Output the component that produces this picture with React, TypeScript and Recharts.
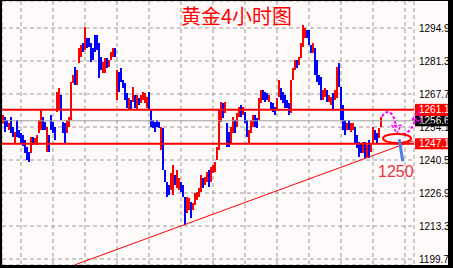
import React from "react";
import {
  Bar,
  CartesianGrid,
  Cell,
  ComposedChart,
  Line,
  ReferenceDot,
  ReferenceLine,
  XAxis,
  YAxis,
} from "recharts";

// 4h gold bars, left to right (high / low), 1 = rising bar (red), 0 = falling (blue)
const barHigh = [
  1259.0, 1258.2, 1257.0, 1255.8, 1258.2, 1254.1, 1252.0, 1257.0, 1252.9, 1251.6,
  1250.8, 1248.7, 1245.9, 1243.8, 1250.0, 1250.0, 1249.6, 1250.8, 1257.0, 1261.1,
  1258.2, 1256.2, 1254.1, 1250.8, 1259.0, 1256.2, 1254.1, 1268.5, 1270.2, 1267.3,
  1256.2, 1255.8, 1257.0, 1258.2, 1272.6, 1275.5, 1278.8, 1277.6, 1286.7, 1287.9,
  1288.7, 1295.3, 1290.8, 1290.8, 1288.7, 1286.7, 1292.0, 1292.0, 1288.7, 1283.0,
  1280.9, 1282.5, 1282.5, 1281.7, 1285.0, 1286.7, 1286.7, 1277.6, 1276.8, 1278.4,
  1273.5, 1272.2, 1268.1, 1266.1, 1265.2, 1270.6, 1267.3, 1267.3, 1266.1, 1267.3,
  1268.5, 1268.1, 1266.5, 1268.5, 1261.1, 1257.0, 1256.2, 1257.0, 1256.2, 1254.1,
  1253.7, 1236.4, 1231.4, 1230.2, 1235.1, 1238.4, 1234.3, 1236.4, 1233.1, 1231.4,
  1230.2, 1225.3, 1225.3, 1224.8, 1223.2, 1222.8, 1226.9, 1227.3, 1229.0, 1234.3,
  1233.1, 1233.5, 1235.6, 1236.4, 1237.6, 1238.4, 1239.7, 1245.9, 1261.1, 1264.4,
  1264.0, 1264.4, 1255.8, 1252.0, 1254.1, 1258.2, 1257.0, 1259.9, 1262.3, 1263.2,
  1262.3, 1260.3, 1257.0, 1252.9, 1257.0, 1259.0, 1259.0, 1257.8, 1266.1, 1269.4,
  1269.4, 1268.5, 1268.1, 1267.3, 1264.4, 1264.0, 1262.3, 1266.1, 1273.5, 1270.2,
  1268.5, 1267.3, 1265.2, 1264.0, 1273.5, 1278.4, 1281.7, 1281.7, 1283.0, 1288.7,
  1296.1, 1294.9, 1294.1, 1294.1, 1287.9, 1288.7, 1286.7, 1281.7, 1275.5, 1274.7,
  1269.4, 1270.2, 1269.4, 1267.3, 1266.5, 1268.1, 1269.4, 1278.8, 1280.5, 1270.6,
  1263.2, 1257.0, 1255.8, 1257.0, 1255.8, 1255.8, 1254.1, 1250.8, 1247.9, 1247.5,
  1247.9, 1247.9, 1246.7, 1248.7, 1247.5, 1254.1, 1252.9, 1251.6, 1253.7, 1258.2,
];

const barLow = [
  1255.5, 1252.0, 1254.1, 1252.9, 1251.6, 1250.0, 1247.5, 1250.0, 1249.6, 1247.5,
  1246.3, 1243.4, 1240.5, 1239.7, 1243.4, 1246.7, 1247.5, 1246.7, 1251.6, 1252.9,
  1252.9, 1252.9, 1243.8, 1243.8, 1252.9, 1251.6, 1248.7, 1260.3, 1261.1, 1257.0,
  1251.6, 1247.5, 1251.6, 1254.1, 1257.0, 1272.2, 1271.4, 1271.4, 1280.5, 1283.0,
  1285.0, 1285.8, 1286.7, 1287.1, 1280.9, 1281.7, 1285.0, 1285.8, 1274.3, 1277.6,
  1276.4, 1276.4, 1278.4, 1278.8, 1281.7, 1283.0, 1283.0, 1265.2, 1268.5, 1272.6,
  1270.2, 1265.2, 1261.9, 1261.1, 1261.1, 1264.4, 1261.9, 1261.1, 1263.2, 1264.0,
  1265.2, 1264.0, 1261.9, 1261.1, 1254.1, 1253.7, 1252.0, 1254.1, 1253.7, 1244.6,
  1236.4, 1231.4, 1225.3, 1226.1, 1228.1, 1226.1, 1230.2, 1229.0, 1228.1, 1227.3,
  1225.3, 1213.7, 1218.7, 1219.9, 1216.6, 1219.9, 1222.0, 1224.0, 1225.3, 1227.3,
  1229.0, 1230.2, 1231.4, 1229.4, 1231.4, 1235.1, 1235.6, 1240.5, 1244.6, 1256.2,
  1257.8, 1259.9, 1245.9, 1245.9, 1247.5, 1251.6, 1251.6, 1254.1, 1258.2, 1258.2,
  1259.0, 1255.8, 1250.0, 1247.5, 1251.6, 1254.1, 1254.1, 1253.7, 1257.0, 1264.0,
  1265.2, 1264.4, 1265.2, 1264.4, 1261.1, 1260.3, 1259.0, 1261.1, 1266.5, 1265.2,
  1264.0, 1261.9, 1261.9, 1259.0, 1259.9, 1273.5, 1277.6, 1278.4, 1279.7, 1282.5,
  1287.1, 1290.8, 1290.8, 1287.9, 1284.6, 1284.6, 1275.5, 1272.6, 1271.4, 1265.2,
  1265.2, 1266.5, 1264.4, 1264.4, 1263.2, 1261.1, 1265.2, 1266.1, 1270.6, 1257.0,
  1252.9, 1250.8, 1252.9, 1252.9, 1252.0, 1252.9, 1247.5, 1245.4, 1241.7, 1243.4,
  1243.4, 1241.3, 1241.7, 1241.3, 1243.8, 1247.5, 1248.7, 1247.5, 1249.6, 1254.1,
];

const barUp = [
  1, 0, 0, 1, 0, 0, 1, 0, 0, 0,
  0, 0, 0, 0, 1, 0, 1, 1, 1, 1,
  0, 0, 1, 0, 0, 0, 0, 1, 1, 0,
  0, 0, 1, 1, 1, 1, 0, 1, 1, 1,
  0, 1, 0, 0, 0, 0, 0, 0, 0, 0,
  1, 1, 0, 1, 1, 1, 0, 1, 0, 0,
  0, 0, 0, 1, 0, 1, 0, 1, 0, 1,
  1, 1, 1, 0, 0, 0, 0, 0, 0, 1,
  0, 0, 0, 0, 1, 1, 0, 1, 1, 0,
  0, 0, 1, 1, 0, 1, 1, 1, 1, 1,
  0, 1, 1, 0, 1, 1, 1, 1, 1, 1,
  0, 1, 0, 0, 1, 1, 0, 1, 1, 0,
  1, 0, 0, 1, 1, 1, 0, 0, 1, 1,
  0, 0, 0, 1, 0, 0, 0, 1, 1, 0,
  0, 0, 0, 0, 1, 1, 1, 0, 1, 1,
  1, 1, 0, 0, 0, 1, 0, 0, 0, 0,
  1, 1, 0, 1, 1, 0, 1, 1, 0, 0,
  0, 0, 1, 0, 1, 1, 0, 0, 0, 0,
  1, 0, 1, 0, 1, 1, 0, 0, 1, 1,
];

const slotCount = 206; // bar slots incl. empty space on the right
const gridSlots = [9, 25, 41, 57, 73, 89, 105, 121, 137, 153, 169, 185, 201];
const priceTicks = [1199.7, 1213.3, 1226.9, 1240.5, 1254.1, 1267.7, 1281.3, 1294.9];
const priceDomain = [1197.23, 1306.03];

const resistance = 1261.17;
const support = 1247.19;
const bidPrice = 1256.66;
const trendStart = { slot: 36, price: 1197.3 };
const trendEnd = { slot: 205, price: 1248.4 };
const target = { slot: 197, price: 1249.4, label: "1250" };

const data = Array.from({ length: slotCount }, (_, i) => ({
  slot: i,
  range: i < barHigh.length ? [barLow[i], barHigh[i]] : null,
  trend: i === trendStart.slot ? trendStart.price : i === trendEnd.slot ? trendEnd.price : null,
}));

const tagFont = "'Liberation Sans', Arial, sans-serif";

function PriceTag({ viewBox, value, bg, h }: any) {
  const left = viewBox.x + viewBox.width + 1;
  return (
    <g>
      <rect x={left} y={viewBox.y - h / 2} width={40} height={h} fill={bg} />
      <text x={left + 4} y={viewBox.y} dy="0.36em" fill="#fff" fontSize={10} fontFamily={tagFont}>
        {value.toFixed(2)}
      </text>
    </g>
  );
}

function TargetMarks({ cx, cy }: any) {
  const magenta = "#ff00ff";
  return (
    <g>
      <path
        d={`M${cx - 15} ${cy - 22} C${cx - 10} ${cy - 30} ${cx - 3} ${cy - 28} ${cx - 1} ${cy - 11}`}
        stroke={magenta}
        strokeWidth={2}
        strokeDasharray="3 2"
        fill="none"
      />
      <path
        d={`M${cx - 5} ${cy - 13} L${cx} ${cy - 5} L${cx + 4} ${cy - 13} Z`}
        stroke={magenta}
        strokeWidth={1.5}
        strokeDasharray="3 1.5"
        fill="none"
      />
      <path
        d={`M${cx + 6} ${cy - 4} C${cx + 13} ${cy - 6} ${cx + 16} ${cy - 12} ${cx + 19} ${cy - 20}`}
        stroke={magenta}
        strokeWidth={2}
        strokeDasharray="3 2"
        fill="none"
      />
      <path
        d={`M${cx + 15} ${cy - 19} L${cx + 22} ${cy - 27} L${cx + 24} ${cy - 17} Z`}
        stroke={magenta}
        strokeWidth={1.5}
        strokeDasharray="3 1.5"
        fill="none"
      />
      <ellipse cx={cx} cy={cy} rx={14} ry={4.5} stroke="#ff0000" strokeWidth={2} fill="none" />
      <line
        x1={cx + 2.5}
        y1={cy + 2}
        x2={cx + 5.5}
        y2={cy + 21.5}
        stroke="#4f7fe6"
        strokeWidth={3}
        strokeLinecap="round"
      />
      <text x={cx - 19} y={cy + 38.5} fill="#e8343f" fontSize={16} fontFamily={tagFont}>
        {target.label}
      </text>
    </g>
  );
}

export default function App() {
  return (
    <div style={{ position: "relative", width: 453, height: 268, background: "#fffafa", overflow: "hidden" }}>
      <style>{`body{margin:0}`}</style>
      <ComposedChart
        width={453}
        height={268}
        data={data}
        margin={{ top: 1, right: 0, bottom: 3, left: 2 }}
        barCategoryGap={0}
        barGap={0}
      >
        <CartesianGrid stroke="#9a9a9a" strokeDasharray="4 3" />
        <XAxis dataKey="slot" type="category" hide ticks={gridSlots} interval={0} />
        <YAxis
          orientation="right"
          width={39}
          domain={priceDomain}
          allowDataOverflow
          ticks={priceTicks}
          interval={0}
          axisLine={false}
          tickLine={false}
          tickSize={0}
          tickMargin={5}
          tickFormatter={(v: number) => v.toFixed(2)}
          tick={{ fill: "#000", fontSize: 10, fontFamily: tagFont }}
        />
        <Bar dataKey="range" isAnimationActive={false}>
          {data.map((d, i) => (
            <Cell key={i} fill={barUp[i] ? "#ff0000" : "#0000ff"} />
          ))}
        </Bar>
        <Line
          dataKey="trend"
          stroke="#ff0000"
          strokeWidth={1}
          dot={false}
          connectNulls
          isAnimationActive={false}
        />
        <ReferenceLine
          y={bidPrice}
          stroke="#a0a0a0"
          strokeWidth={1}
          label={(p: any) => <PriceTag viewBox={p.viewBox} value={bidPrice} bg="#000" h={11} />}
        />
        <ReferenceLine
          y={resistance}
          stroke="#ff0000"
          strokeWidth={2}
          label={(p: any) => <PriceTag viewBox={p.viewBox} value={resistance} bg="#ff0000" h={12} />}
        />
        <ReferenceLine
          y={support}
          stroke="#ff0000"
          strokeWidth={2}
          label={(p: any) => <PriceTag viewBox={p.viewBox} value={support} bg="#ff0000" h={11} />}
        />
        <ReferenceDot x={target.slot} y={target.price} shape={(p: any) => <TargetMarks cx={p.cx} cy={p.cy} />} />
      </ComposedChart>
      <div
        style={{
          position: "absolute",
          left: 181,
          top: 5,
          fontSize: 20,
          lineHeight: "22px",
          color: "#ff0000",
          fontFamily: "'Noto Sans CJK SC', sans-serif",
          whiteSpace: "nowrap",
        }}
      >
        黄金4小时图
      </div>
      <div style={{ position: "absolute", left: 0, top: 0, width: 453, height: 1, background: "#000" }} />
      <div style={{ position: "absolute", left: 0, top: 0, width: 2, height: 268, background: "#000" }} />
      <div style={{ position: "absolute", left: 448, top: 0, width: 5, height: 268, background: "#000" }} />
      <div style={{ position: "absolute", left: 0, top: 265, width: 453, height: 3, background: "#000" }} />
    </div>
  );
}
